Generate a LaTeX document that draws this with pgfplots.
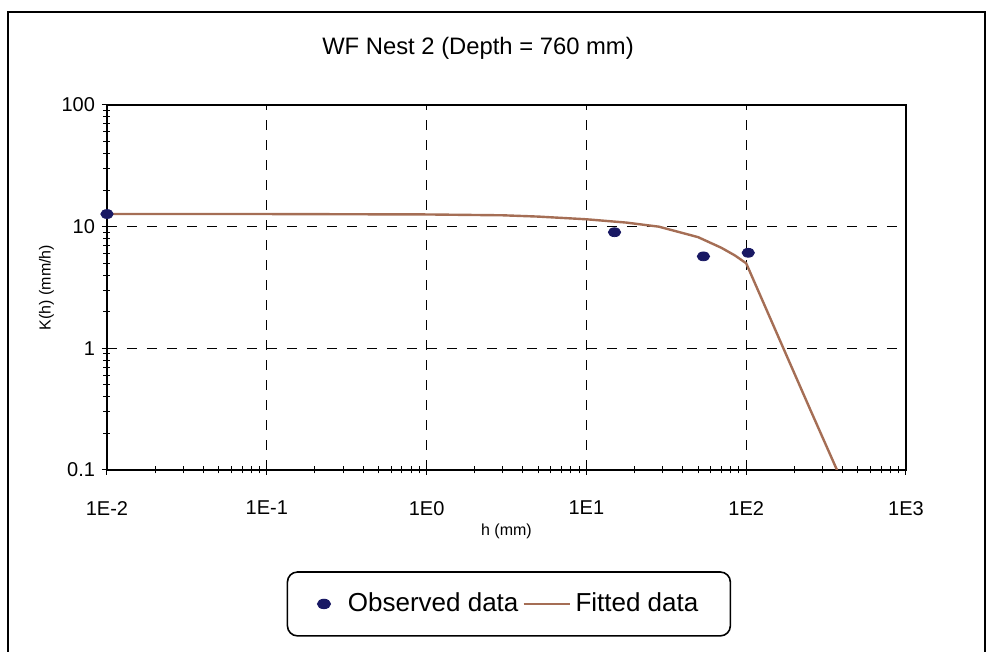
\documentclass[border=0pt]{standalone}
\usepackage{fontspec}
\setmainfont{Liberation Sans}
\usepackage{pgfplots}
\pgfplotsset{compat=1.18}
\definecolor{fitc}{RGB}{165,110,85}
\definecolor{obsc}{RGB}{25,25,100}
\begin{document}
\begin{tikzpicture}
\useasboundingbox (0pt,0pt) rectangle (501.5pt,326pt);
\draw[line width=0.8pt] (4pt,0pt) -- (4pt,320pt) -- (492.5pt,320pt) -- (492.5pt,0pt);
\node at (239pt,302pt) {\fontsize{11.9}{14}\selectfont WF Nest 2 (Depth = 760 mm)};
\begin{axis}[
  at={(53.5pt,91pt)}, anchor=south west,
  scale only axis, width=399.5pt, height=182.5pt,
  xmode=log, ymode=log,
  xmin=1e-2, xmax=1e3, ymin=0.1, ymax=100,
  xtick={1e-2,1e-1,1,10,100,1000},
  xticklabels={1E-2,1E-1,1E0,1E1,1E2,1E3},
  ytick={0.1,1,10,100},
  yticklabels={0.1,1,10,100},
  xtick pos=lower, ytick pos=left,
  tick align=center,
  major tick length=5pt, minor tick length=3.5pt,
  tick style={black, line width=0.5pt},
  axis line style={line width=1.1pt},
  grid=major,
  major grid style={black, line width=0.4pt, dash pattern=on 5pt off 5pt},
  ticklabel style={font=\fontsize{10}{12}\selectfont},
  xticklabel style={yshift=-9.5pt},
  /pgf/number format/assume math mode=true,
  xlabel={h (mm)}, ylabel={K(h) (mm/h)},
  label style={font=\fontsize{8}{10}\selectfont},
  xlabel style={yshift=2.5pt},
  ylabel shift=-3pt,
  legend columns=2,
  legend style={at={(0.503,-0.367)}, anchor=center, draw=black, line width=0.8pt,
    rounded corners=5pt, font=\fontsize{13}{15}\selectfont,
    inner xsep=14pt, inner ysep=8.5pt,
    /tikz/every even column/.append style={column sep=0pt}},
]
\addplot[only marks, mark=*, mark size=3.1pt, color=obsc, mark options={yscale=0.72, fill=obsc},
  legend image code/.code={\path[draw=none] (-0.05cm,0cm) -- (0.45cm,0cm);\fill[obsc] (0.1cm,0cm) ellipse (3.1pt and 2.2pt);}]
  coordinates {(0.01,12.7) (15,9.0) (54,5.7) (103,6.1)};
\addlegendentry{Observed data}
\addplot[fitc, line width=1.2pt, legend image code/.code={\draw[fitc, line width=1.2pt] (-0.1cm,0cm) -- (0.72cm,0cm);}]
  coordinates {(0.01,12.7) (0.1,12.7) (1,12.6) (3,12.4) (5,12.1) (10,11.5) (17.8,10.8) (28.4,10.0) (50,8.2) (70,6.7) (85,5.8) (100,5.0) (150,1.48) (250,0.32) (370,0.1)};
\addlegendentry{Fitted data\hspace{11pt}}
\end{axis}
\end{tikzpicture}
\end{document}
